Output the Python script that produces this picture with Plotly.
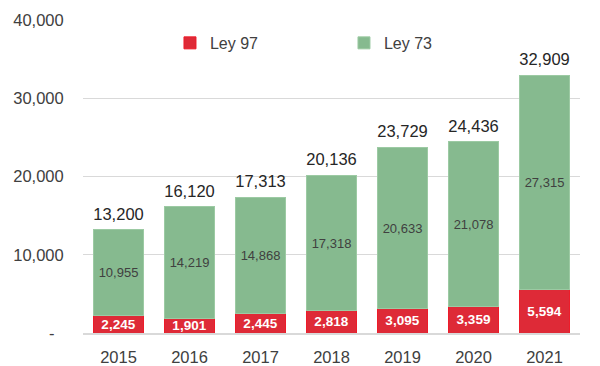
import plotly.graph_objects as go

years = ["2015", "2016", "2017", "2018", "2019", "2020", "2021"]
ley97 = [2245, 1901, 2445, 2818, 3095, 3359, 5594]
ley73 = [10955, 14219, 14868, 17318, 20633, 21078, 27315]
totals = [13200, 16120, 17313, 20136, 23729, 24436, 32909]
y_tickvals = [0, 10000, 20000, 30000, 40000]
y_ticktext = ["-\u00a0\u00a0", "10,000", "20,000", "30,000", "40,000"]

FONT = "Liberation Sans, Arial, sans-serif"
RED = "#de2a37"
GREEN = "#86ba8f"

fig = go.Figure()
fig.add_trace(go.Bar(
    x=years, y=ley97, name="Ley 97",
    marker=dict(color=RED, line=dict(color="#ee1c2a", width=1)),
    texttemplate="%{y:,.0f}", textposition="inside", insidetextanchor="middle",
    textfont=dict(family=FONT, size=13.5, color="white", weight="bold"),
    constraintext="none",
))
fig.add_trace(go.Bar(
    x=years, y=ley73, name="Ley 73",
    marker=dict(color=GREEN, line=dict(color="#9ccaa3", width=1)),
    texttemplate="%{y:,.0f}", textposition="inside", insidetextanchor="middle",
    textfont=dict(family=FONT, size=13, color="#404040"),
    constraintext="none",
))
fig.add_trace(go.Scatter(
    x=years, y=totals, mode="markers+text", showlegend=False,
    text=[f"{v:,}" for v in totals], textposition="top center",
    marker=dict(size=8, opacity=0),
    textfont=dict(family=FONT, size=16.5, color="#262626"),
    cliponaxis=False, hoverinfo="skip",
))

# the page body adds an 8px offset, so the figure is sized to fit the window
fig.update_layout(
    width=592, height=358,
    barmode="stack", bargap=0.3,
    plot_bgcolor="white", paper_bgcolor="white",
    margin=dict(l=75, r=20, t=12, b=33),
    font=dict(family=FONT, size=16, color="#404040"),
    showlegend=True,
    legend=dict(orientation="h", x=0.175, y=0.981, xanchor="left", yanchor="top",
                traceorder="normal", entrywidth=129,
                font=dict(family=FONT, size=16, color="#404040"),
                bgcolor="rgba(0,0,0,0)"),
)
fig.update_xaxes(showgrid=False, showline=True, linecolor="#d9d9d9", linewidth=2,
                 ticks="outside", ticklen=8, tickcolor="rgba(0,0,0,0)",
                 automargin=False,
                 tickfont=dict(family=FONT, size=16.5, color="#404040"))
fig.update_yaxes(range=[0, 40000], tickvals=y_tickvals, ticktext=y_ticktext,
                 showgrid=True, gridcolor="#d9d9d9", gridwidth=1, zeroline=False,
                 ticks="outside", ticklen=15, tickcolor="rgba(0,0,0,0)",
                 automargin=False,
                 tickfont=dict(family=FONT, size=16.5, color="#404040"))

fig.write_html("out.html")
